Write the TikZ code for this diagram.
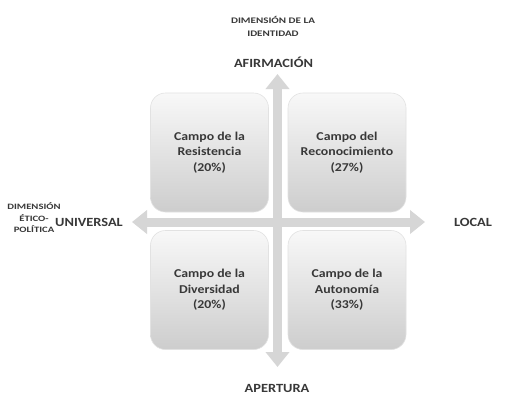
\documentclass[tikz,border=0pt]{standalone}
\usepackage{fontspec}
\setmainfont[FakeStretch=1.15]{Carlito}
\newfontfamily\dimfont[FakeStretch=1.3]{Carlito}
\usetikzlibrary{arrows.meta}
\definecolor{txt}{HTML}{383838}
\definecolor{arr}{HTML}{D6D6D6}
\definecolor{boxtop}{HTML}{F8F8F8}
\definecolor{boxbot}{HTML}{CDCDCD}
\definecolor{boxedge}{HTML}{E2E2E2}
\tikzset{
  field/.style={rounded corners=15bp, draw=boxedge, line width=0.6bp,
    top color=boxtop, bottom color=boxbot, minimum width=118bp, minimum height=119bp,
    align=center, font=\fontsize{12bp}{15.5bp}\selectfont\bfseries, text=txt, inner sep=0pt},
  axis/.style={draw=arr, line width=9bp,
    {Triangle[width=23bp,length=15bp]}-{Triangle[width=23bp,length=15bp]}},
  pole/.style={font=\fontsize{12.5bp}{14bp}\selectfont\bfseries, text=txt, inner sep=0pt},
  dimlabel/.style={font=\dimfont\fontsize{8.5bp}{12.5bp}\selectfont\bfseries, text=txt, align=center, inner sep=0pt},
}
\begin{document}
\begin{tikzpicture}[x=1bp,y=-1bp]
\useasboundingbox (0,0) rectangle (528,406);
\fill[white] (0,0) rectangle (528,406);
% axes
\coordinate (top) at (277.5,74);
\coordinate (bottom) at (277.5,367);
\coordinate (left) at (132,222);
\coordinate (right) at (425,222);
\draw[axis] (bottom) -- (top);
\draw[axis] (left) -- (right);
% fields
\node[field] (res) at (209.5,152.5) {Campo de la\\Resistencia\\(20\%)};
\node[field] (rec) at (347,152.5) {Campo del\\Reconocimiento\\(27\%)};
\node[field] (div) at (209.5,290) {Campo de la\\Diversidad\\(20\%)};
\node[field] (aut) at (347,290) {Campo de la\\Autonomía\\(33\%)};
% poles
\node[pole] (afi) at (273.5,62) {AFIRMACIÓN};
\node[pole] (ape) at (277,388) {APERTURA};
\node[pole] (loc) at (473,222) {LOCAL};
\node[pole] (uni) at (89,222) {UNIVERSAL};
% dimension labels
\node[dimlabel] (did) at (273,26.5) {DIMENSIÓN DE LA\\IDENTIDAD};
\node[dimlabel, font=\dimfont\fontsize{8.2bp}{11.5bp}\selectfont\bfseries] (dep) at (34,218) {DIMENSIÓN\\ÉTICO-\\POLÍTICA};
\end{tikzpicture}
\end{document}
